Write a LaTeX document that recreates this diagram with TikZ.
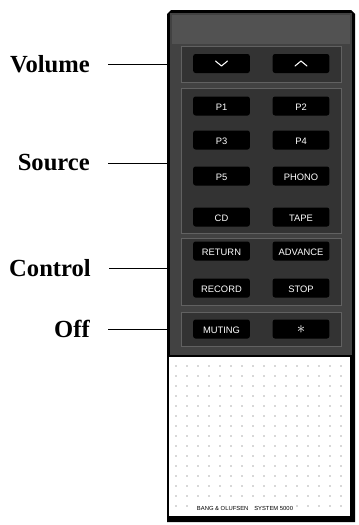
\documentclass[tikz,border=0pt]{standalone}
\usepackage{fontspec}
\setmainfont{Liberation Serif}
\setsansfont{Liberation Sans}
\usepackage{tikz}
\usetikzlibrary{arrows.meta, calc, positioning}

\tikzset{
  lbl/.style={font=\fontsize{21}{24}\selectfont\bfseries, inner sep=0pt, anchor=east},
  lead/.style={line width=0.8pt, black},
  btn/.style={fill=black, rounded corners=2pt, minimum width=1.7cm, minimum height=0.57cm,
              inner sep=0pt, text=white, text height=1.6ex, text depth=0.1ex,
              font=\sffamily\fontsize{8}{9}\selectfont},
  panel/.style={draw=black!62, fill=black!80, line width=0.7pt},
  chev/.style={white, line width=0.9pt, line join=round, line cap=round}
}

\begin{document}
\begin{tikzpicture}[x=0.03cm, y=-0.03cm]
  \useasboundingbox (0,0) rectangle (358,525);

  % Gehaeuse
  \fill[black] (167,14) -- (171,10) -- (351,10) -- (355,14) -- (355,522) -- (167,522) -- cycle;
  \fill[black!74] (170,13) rectangle (352,355);
  \fill[black!68] (172,15) rectangle (350,44);
  \foreach \t/\b in {46/82, 88/233, 238/305, 312/346}
    \draw[panel] (181,\t) rectangle (341,\b);

  % Lautsprechergitter
  \fill[white] (169,357) rectangle (350,516);
  \foreach \x in {176,187,...,346}
    \foreach \y in {366,376,...,512}
      \fill[black!30] (\x,\y) circle (0.8pt);
  \node[fill=white, inner sep=1pt, font=\sffamily\fontsize{5}{6}\selectfont] (brand) at (245,508)
       {BANG \& OLUFSEN\quad SYSTEM 5000};

  % Tasten
  \node[btn] (vdn) at (221.5,63.5) {};
  \node[btn] (vup) at (301,63.5) {};
  \draw[chev] ($(vdn)+(-6,-2.5)$) -- ($(vdn)+(0,2.5)$) -- ($(vdn)+(6,-2.5)$);
  \draw[chev] ($(vup)+(-6,2.5)$) -- ($(vup)+(0,-2.5)$) -- ($(vup)+(6,2.5)$);
  \foreach \y/\a/\b/\n in {106/P1/P2/pa, 140/P3/P4/pb, 176/P5/PHONO/pc,
                           217/CD/TAPE/cd, 251/RETURN/ADVANCE/ret,
                           288/RECORD/STOP/rec, 329/MUTING/{\Large$\ast$}/mut} {
    \node[btn] (\n l) at (221.5,\y) {\a};
    \node[btn] (\n r) at (301,\y) {\b};
  }

  % Beschriftungen
  \node[lbl] (vol) at (90,64) {Volume};
  \node[lbl] (src) at (90,163) {Source};
  \node[lbl] (ctl) at (91,268) {Control};
  \node[lbl] (off) at (90,329) {Off};
  \foreach \n in {vol, src, ctl, off} {
    \coordinate (\n e) at (167,0 |- \n.east);
    \draw[lead] ([xshift=0.54cm]\n.east) -- (\n e);
  }
\end{tikzpicture}
\end{document}
